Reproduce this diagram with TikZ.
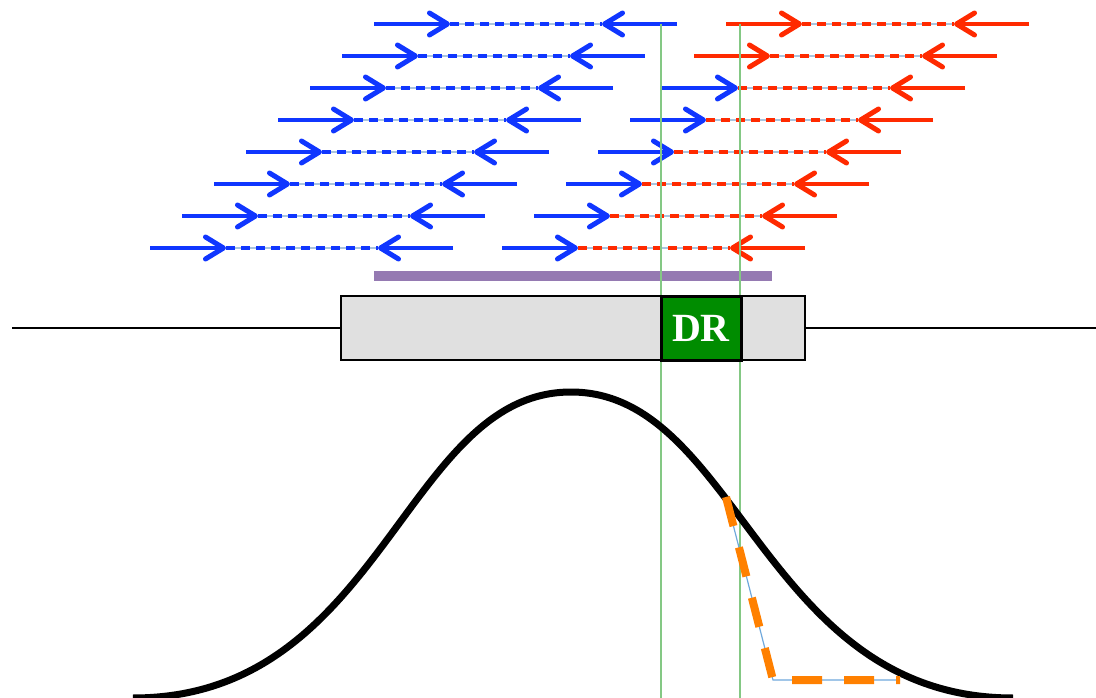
\documentclass[tikz,border=0pt]{standalone}
\usepackage{fontspec}
\setmainfont{Liberation Serif}
\usepackage{tikz}
\usetikzlibrary{arrows.meta,calc,positioning}
\definecolor{ReadBlue}{HTML}{1036FF}
\definecolor{ReadRed}{HTML}{FF2A00}
\definecolor{PaleBlue}{HTML}{A9C4DE}
\definecolor{GuideGreen}{HTML}{84C884}
\definecolor{DRGreen}{HTML}{008C00}
\definecolor{GeneGray}{HTML}{E0E0E0}
\definecolor{Lilac}{HTML}{957AB2}
\definecolor{Signal}{HTML}{FF8000}
\definecolor{Steel}{HTML}{6FA8DC}
\tikzset{
  readarrow/.style={line width=3.5pt,-{Straight Barb[length=18pt,width=22pt,line width=5pt,round]}},
  readgap/.style={line width=3.5pt,dash pattern=on 9pt off 6pt},
  gapline/.style={line width=2pt,draw=PaleBlue},
  guideline/.style={line width=2pt,draw=GuideGreen},
  genebox/.style={rectangle,minimum height=64pt,inner sep=0pt,draw=black},
}

\begin{document}
\begin{tikzpicture}[x=1pt,y=-1pt]
    \useasboundingbox (0,0) rectangle (1096,698);

    % paired reads, left group
    \foreach \i in {0,...,7}{
      \pgfmathsetmacro{\ry}{24+32*\i}
      \pgfmathsetmacro{\rx}{374-32*\i}
      \coordinate (la\i) at (\rx,\ry);
      \coordinate (lb\i) at (\rx+76,\ry);
      \coordinate (lc\i) at (\rx+228,\ry);
      \coordinate (ld\i) at (\rx+303,\ry);
      \draw[gapline] (lb\i) -- (lc\i);
      \draw[readgap,draw=ReadBlue] (lb\i) -- (lc\i);
      \draw[readarrow,draw=ReadBlue] (la\i) -- (lb\i);
      \draw[readarrow,draw=ReadBlue] (ld\i) -- (lc\i);
    }

    % paired reads, right group
    \foreach \i/\fc in {0/ReadRed,1/ReadRed,2/ReadBlue,3/ReadBlue,4/ReadBlue,5/ReadBlue,6/ReadBlue,7/ReadBlue}{
      \pgfmathsetmacro{\ry}{24+32*\i}
      \pgfmathsetmacro{\rx}{726-32*\i}
      \coordinate (ra\i) at (\rx,\ry);
      \coordinate (rb\i) at (\rx+76,\ry);
      \coordinate (rc\i) at (\rx+228,\ry);
      \coordinate (rd\i) at (\rx+303,\ry);
      \draw[gapline] (rb\i) -- (rc\i);
      \draw[readgap,draw=ReadRed] (rb\i) -- (rc\i);
      \draw[readarrow,draw=\fc] (ra\i) -- (rb\i);
      \draw[readarrow,draw=ReadRed] (rd\i) -- (rc\i);
    }

    % covered span
    \coordinate (spanl) at (374,276);
    \coordinate (spanr) at (772,276);
    \draw[line width=10pt,draw=Lilac] (spanl) -- (spanr);

    % borders of the DR element
    \coordinate (gtl) at (661,24);
    \coordinate (gbl) at (661,698);
    \coordinate (gtr) at (740,24);
    \coordinate (gbr) at (740,698);
    \draw[guideline] (gtl) -- (gbl);
    \draw[guideline] (gtr) -- (gbr);

    % gene on the chromosome
    \coordinate (chl) at (12,328);
    \coordinate (chr) at (1096,328);
    \node[genebox,minimum width=464pt,fill=GeneGray,line width=2pt] (gene) at (573,328) {};
    \draw[line width=2pt] (chl) -- (gene.west);
    \draw[line width=2pt] (gene.east) -- (chr);
    \node[genebox,minimum width=80pt,fill=DRGreen,line width=3pt,text=white,
      font=\fontsize{40}{44}\selectfont\bfseries] (dr) at (701,328) {DR};

    % coverage profile
    \coordinate (cvl) at (133,698);
    \coordinate (cvp) at (571,392);
    \coordinate (cvr) at (1013,698);
    \draw[line width=7pt] (cvl) .. controls +(250,0) and +(-167,0) .. (cvp)
      .. controls +(167,0) and +(-250,0) .. (cvr);

    % expected drop at the DR
    \coordinate (dp1) at (726,497);
    \coordinate (dp2) at (773,680);
    \coordinate (dp3) at (900,680);
    \draw[line width=1.2pt,draw=Steel] (dp1) -- (dp2) -- (dp3);
    \draw[line width=8pt,draw=Signal,dash pattern=on 30pt off 22pt] (dp1) -- (dp2) -- (dp3);
  \end{tikzpicture}
\end{document}
